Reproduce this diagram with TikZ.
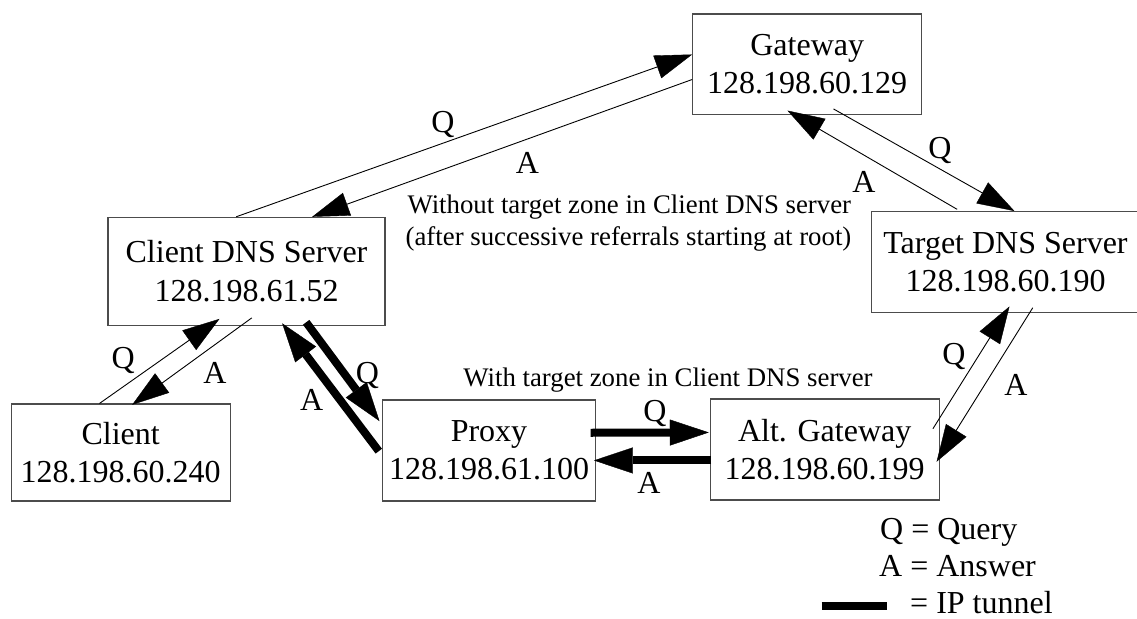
\documentclass[tikz,border=0pt]{standalone}
\usepackage{fontspec}
\setmainfont{Liberation Serif}
\usetikzlibrary{arrows.meta}
\begin{document}
\begin{tikzpicture}[x=1pt,y=-1pt,
  box/.style={draw=black!70, line width=1.1pt, inner sep=0pt, align=center,
    font=\fontsize{32}{38.4}\selectfont},
  lbl/.style={inner sep=0pt, font=\fontsize{32}{38.4}\selectfont},
  note/.style={inner sep=0pt, anchor=base, font=\fontsize{26.8}{32}\selectfont},
  msg/.style={line width=0.9pt, -{Triangle[length=37pt,width=24pt,line width=0.4pt]}},
  tunnel/.style={line width=8pt, -{Triangle[length=39pt,width=26pt,line width=0.4pt]}},
]
\path[use as bounding box, fill=white] (0,0) rectangle (1137,618);
\clip (0,0) rectangle (1137,618);

% hosts
\node[box, minimum width=229pt, minimum height=100.3pt] (gw) at (807.2,64.2)
  {Gateway\\128.198.60.129};
\node[box, minimum width=267.6pt, minimum height=100.8pt] (tgt) at (1005.5,262)
  {Target DNS Server\\128.198.60.190};
\node[box, minimum width=277pt, minimum height=107.7pt] (cdns) at (246.5,271.2)
  {Client DNS Server\\128.198.61.52};
\node[box, minimum width=219.3pt, minimum height=97pt] (cl) at (120.7,452.5)
  {Client\\128.198.60.240};
\node[box, minimum width=212.5pt, minimum height=101pt] (px) at (489,450.5)
  {Proxy\\128.198.61.100};
\node[box, minimum width=229.3pt, minimum height=101pt] (alt) at (824.7,449.5)
  {Alt. Gateway\\128.198.60.199};

% ordinary resolution path
\draw[msg] ([xshift=128.7pt]cdns.north west) -- ([yshift=-41pt]gw.north west);
\draw[msg] ([yshift=-66pt]gw.north west) -- ([xshift=204.7pt]cdns.north west);
\draw[msg] ([xshift=141.3pt,yshift=6pt]gw.south west) -- ([xshift=143.3pt]tgt.north west);
\draw[msg] ([xshift=86pt,yshift=1.7pt]tgt.north west) -- ([xshift=95.3pt,yshift=4.3pt]gw.south west);

% client and its resolver
\draw[msg] ([xshift=89pt]cl.north west) -- ([xshift=112pt,yshift=6.7pt]cdns.south west);
\draw[msg] ([xshift=144.3pt,yshift=7.7pt]cdns.south west) -- ([xshift=121.7pt,yshift=-1.3pt]cl.north west);

% tunnelled path
\draw[tunnel] ([xshift=198.7pt,yshift=3.3pt]cdns.south west) -- ([xshift=-2.7pt,yshift=-21.7pt]px.north west);
\draw[tunnel] ([xshift=-3.4pt,yshift=-51.7pt]px.north west) -- ([xshift=174.7pt,yshift=2.3pt]cdns.south west);
\draw[tunnel] ([xshift=-5.2pt,yshift=-33.3pt]px.north east) -- ([xshift=-0.7pt,yshift=-34pt]alt.north west);
\draw[tunnel] ([xshift=1.7pt,yshift=-62pt]alt.north west) -- ([xshift=-1.9pt,yshift=-61pt]px.north east);

% alternate gateway and target server
\draw[msg] ([xshift=-7pt,yshift=-30.3pt]alt.north east) -- ([xshift=138.3pt,yshift=6.5pt]tgt.south west);
\draw[msg] ([xshift=161.6pt,yshift=5.2pt]tgt.south west) -- ([xshift=-3.3pt,yshift=-63.3pt]alt.north east);

% Q / A labels
\node[lbl] (q1) at (443,124) {Q};
\node[lbl] (a1) at (527.5,162.5) {A};
\node[lbl] (q2) at (940,150) {Q};
\node[lbl] (a2) at (864,182) {A};
\node[lbl] (q3) at (123.3,360.7) {Q};
\node[lbl] (a3) at (215,373.3) {A};
\node[lbl] (q4) at (367.3,375) {Q};
\node[lbl] (a4) at (311.7,400) {A};
\node[lbl] (q5) at (655,413) {Q};
\node[lbl] (a5) at (649,483) {A};
\node[lbl] (q6) at (954,356.7) {Q};
\node[lbl] (a6) at (1016,385) {A};

% notes
\node[note] (n1) at (629.3,213.3) {Without target zone in Client DNS server};
\node[note] (n2) at (628.5,245) {(after successive referrals starting at root)};
\node[note] (n3) at (668,386) {With target zone in Client DNS server};

% legend
\node[lbl, anchor=base west] (lq) at (880,539) {Q = Query};
\node[lbl, anchor=base west] (la) at (879,576.5) {A = Answer};
\node[lbl, anchor=base west] (lt) at (910,613) {= IP tunnel};
\coordinate (ls) at (821.7,605.5);
\coordinate (le) at (887,605.5);
\draw[line width=8pt] (ls) -- (le);
\end{tikzpicture}
\end{document}
